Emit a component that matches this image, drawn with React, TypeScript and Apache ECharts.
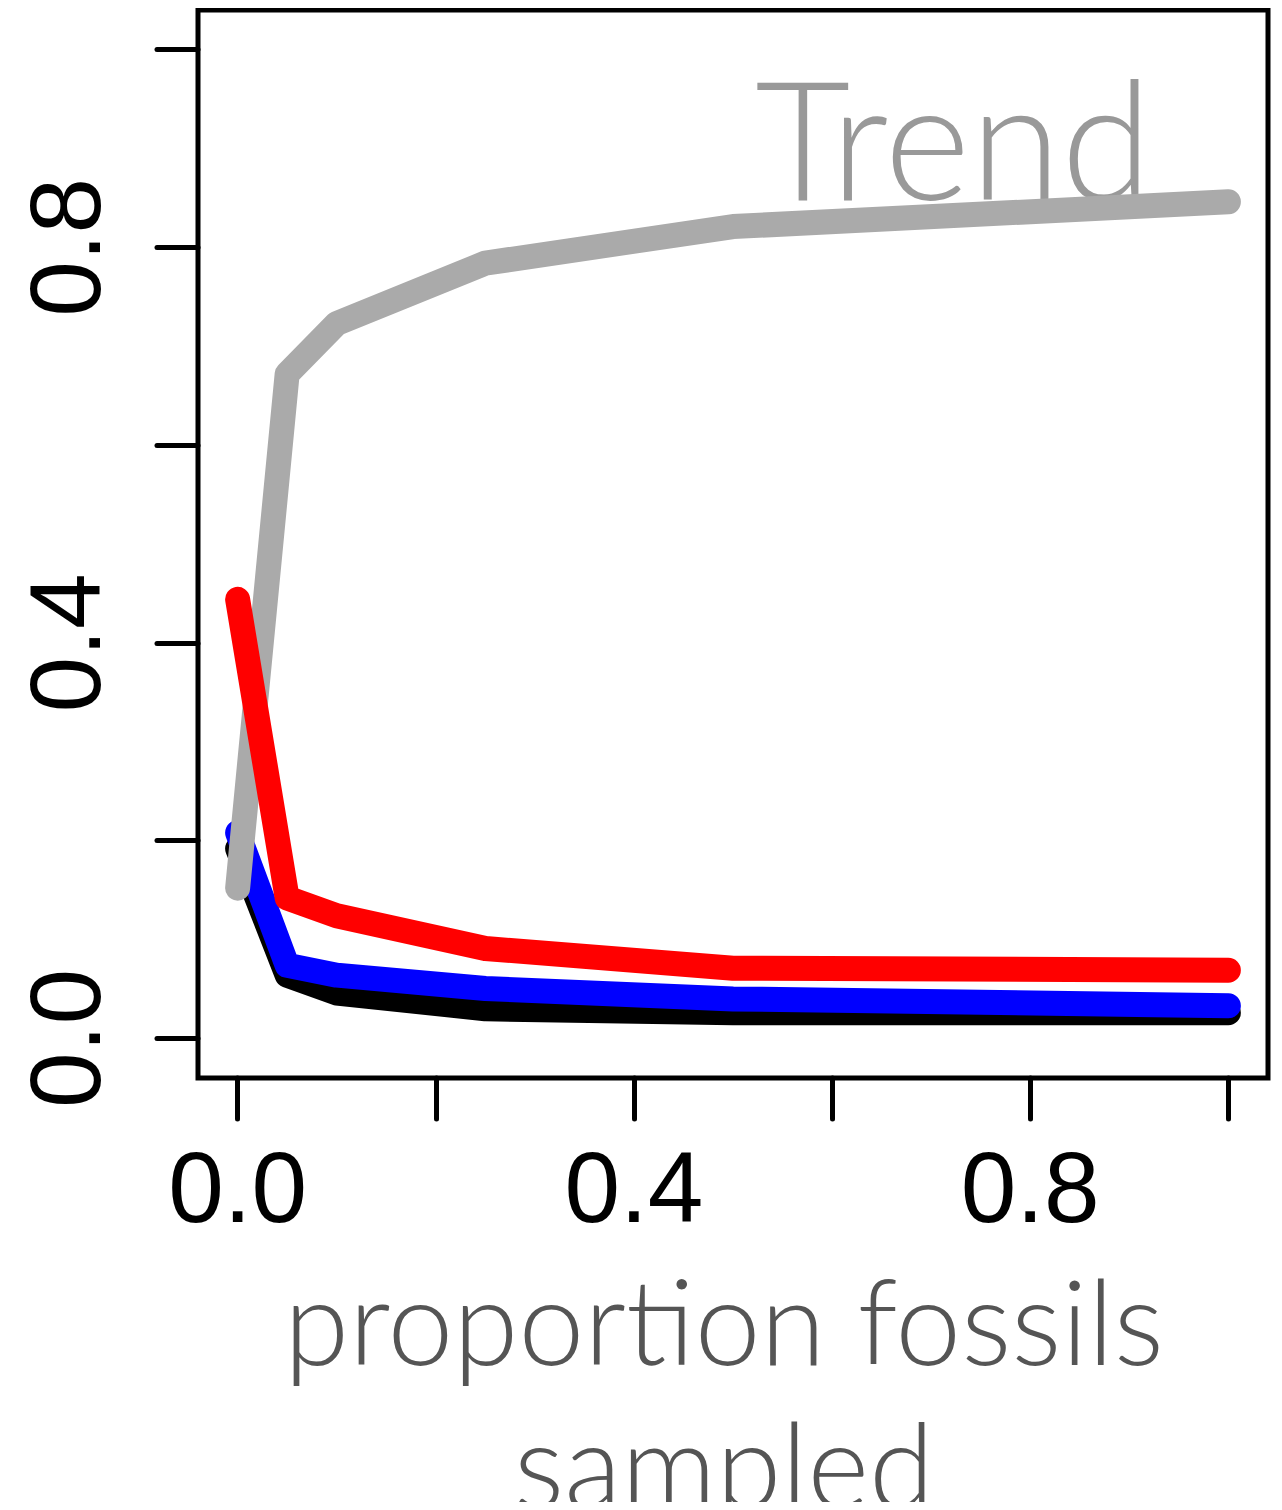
import React, { useEffect, useRef } from "react";
import * as echarts from "echarts";

const xValues = [0, 0.05, 0.1, 0.25, 0.5, 1.0];
const blackValues = [0.192, 0.064, 0.046, 0.03, 0.026, 0.026];
const blueValues = [0.208, 0.074, 0.064, 0.0505, 0.04, 0.033];
const grayValues = [0.152, 0.672, 0.723, 0.784, 0.821, 0.846];
const redValues = [0.444, 0.142, 0.124, 0.091, 0.071, 0.069];
const tickValues = [0, 0.2, 0.4, 0.6, 0.8, 1.0];
const labelValues = [0, 0.4, 0.8];

const pairs = (ys: number[]) => xValues.map((x, i) => [x, ys[i]]);

export default function App() {
  const ref = useRef<HTMLDivElement>(null);
  useEffect(() => {
    const chart = echarts.init(ref.current!, null, { renderer: "svg" });
    const fmt = (v: number) => v.toFixed(1);
    const lineSeries = (data: number[], color: string) => ({
      type: "line",
      data: pairs(data),
      symbol: "none",
      lineStyle: { color, width: 25, cap: "round", join: "round" },
      silent: true,
    });
    const tickStyle = { show: true, inside: false, length: 41, customValues: tickValues, lineStyle: { color: "#000", width: 5, cap: "round" } };
    chart.setOption({
      animation: false,
      backgroundColor: "#ffffff",
      grid: {
        left: 190,
        top: 2,
        width: 1070,
        height: 1068,
        containLabel: false,
        outerBoundsMode: "none",
      },
      xAxis: {
        type: "value",
        min: -0.04,
        max: 1.04,
        position: "bottom",
        axisLine: { show: false, onZero: false },
        splitLine: { show: false },
        axisTick: tickStyle,
        axisLabel: {
          customValues: labelValues,
          formatter: fmt,
          color: "#000",
          fontSize: 100,
          fontFamily: "Liberation Sans, Arial, sans-serif",
          margin: 59,
        },
        name: "proportion fossils\nsampled",
        nameLocation: "middle",
        nameGap: 170,
        nameTextStyle: {
          color: "#555555",
          fontSize: 118,
          fontWeight: 300,
          fontFamily: "Lato, 'Open Sans', sans-serif",
          lineHeight: 143,
          verticalAlign: "top",
          padding: [0, 18, 0, 0],
        },
      },
      yAxis: {
        type: "value",
        min: -0.04,
        max: 1.04,
        position: "left",
        axisLine: { show: false, onZero: false },
        splitLine: { show: false },
        axisTick: tickStyle,
        axisLabel: {
          customValues: labelValues,
          formatter: fmt,
          color: "#000",
          fontSize: 100,
          fontFamily: "Liberation Sans, Arial, sans-serif",
          rotate: 90,
          margin: 83,
        },
      },
      graphic: [
        {
          type: "rect",
          shape: { x: 190, y: 2, width: 1070, height: 1068 },
          style: { fill: "none", stroke: "#000", lineWidth: 5 },
          silent: true,
          z: 100,
        },
        {
          type: "text",
          left: 747,
          top: 45,
          style: {
            text: "Trend",
            fill: "#999999",
            fontSize: 165,
            fontWeight: 300,
            fontFamily: "Lato, 'Open Sans', sans-serif",
          },
          z: 0,
        },
      ],
      series: [
        lineSeries(blackValues, "#000000"),
        lineSeries(blueValues, "#0000ff"),
        lineSeries(grayValues, "#aaaaaa"),
        lineSeries(redValues, "#ff0000"),
      ],
    });
    return () => chart.dispose();
  }, []);
  return <div ref={ref} style={{ width: 1266, height: 1494 }} />;
}
